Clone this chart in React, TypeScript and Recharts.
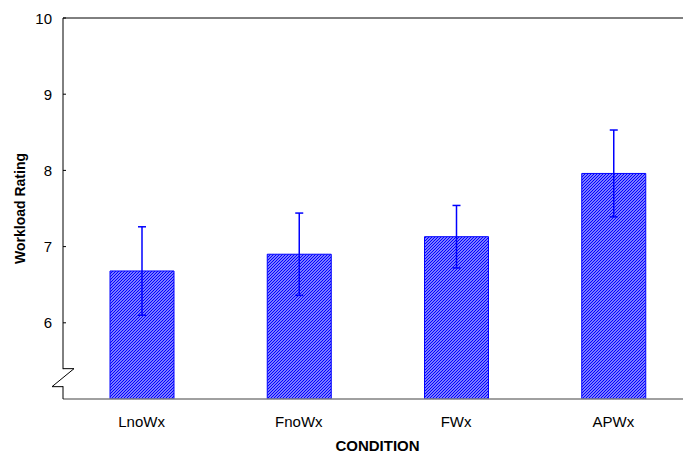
import React from 'react';
import { BarChart, Bar, XAxis, YAxis, ErrorBar, ReferenceLine } from 'recharts';

const categories = ['LnoWx', 'FnoWx', 'FWx', 'APWx'];
const means = [6.68, 6.9, 7.13, 7.96];
const errors = [0.58, 0.54, 0.41, 0.57];
const yTicks = [6, 7, 8, 9, 10];
const yDomain = [5, 10];
const breakAt = 5.28;

const data = categories.map((c, i) => ({ name: c, value: means[i], err: errors[i] }));

const FONT = '"Liberation Sans", Arial, sans-serif';
const BLUE = '#0000ff';
const TICK_GAP = 11;

const YTick = (props: any) => {
  const { x, y, payload } = props;
  const ax = x + TICK_GAP;
  if (payload.value === breakAt) {
    return (
      <g>
        <rect x={ax - 2} y={y - 8.5} width={4} height={17} fill="#fff" />
        <polyline
          points={`${ax},${y - 9} ${ax + 11},${y - 9} ${ax - 11},${y + 9} ${ax},${y + 9}`}
          fill="none"
          stroke="#000"
          strokeWidth={1}
        />
      </g>
    );
  }
  return (
    <g>
      <line x1={ax} x2={ax + 3} y1={y} y2={y} stroke="#000" />
      <text x={x} y={y} textAnchor="end" dominantBaseline="central" fontFamily={FONT} fontSize={15} fill="#000">
        {payload.value}
      </text>
    </g>
  );
};

const YLabel = (props: any) => {
  const { viewBox } = props;
  const cx = viewBox.x + 20;
  const cy = viewBox.y + viewBox.height / 2;
  return (
    <text
      x={cx}
      y={cy}
      transform={`rotate(-90, ${cx}, ${cy})`}
      textAnchor="middle"
      dominantBaseline="central"
      fontFamily={FONT}
      fontSize={14}
      fontWeight="bold"
      fill="#000"
    >
      Workload Rating
    </text>
  );
};

export default function App() {
  return (
    <div style={{ position: 'fixed', left: 0, top: 0, width: 683, height: 453, overflow: 'hidden', background: '#fff' }}>
      <BarChart width={700} height={453} data={data} margin={{ top: 18, right: 8, bottom: 0, left: 0 }}>
        <defs>
          <pattern id="hatch" patternUnits="userSpaceOnUse" width={3} height={3}>
            <rect x={0} y={0} width={3} height={3} fill="#ffffff" />
            <path d="M-1,1 L1,-1 M0,3 L3,0 M2,4 L4,2" stroke={BLUE} strokeWidth={1.45} />
          </pattern>
        </defs>
        <ReferenceLine y={10} stroke="#000" strokeWidth={1} ifOverflow="visible" />
        <XAxis
          dataKey="name"
          height={54}
          axisLine={{ stroke: '#808080', strokeWidth: 1.5 }}
          tickLine={false}
          tickSize={0}
          tickMargin={17}
          tick={{ fontFamily: FONT, fontSize: 15, fill: '#000' }}
          label={{
            value: 'CONDITION',
            position: 'insideBottom',
            offset: 2,
            style: { fontFamily: FONT, fontSize: 15, fontWeight: 'bold', fill: '#000' },
          }}
        />
        <YAxis
          width={63}
          domain={yDomain}
          ticks={[breakAt, ...yTicks]}
          allowDataOverflow
          axisLine={{ stroke: '#000' }}
          tickLine={false}
          tickSize={0}
          tickMargin={TICK_GAP}
          tick={<YTick />}
          interval={0}
          label={<YLabel />}
        />
        <Bar dataKey="value" fill="url(#hatch)" stroke={BLUE} strokeWidth={1} barSize={64} isAnimationActive={false}>
          <ErrorBar dataKey="err" direction="y" width={4} stroke={BLUE} strokeWidth={1.5} isAnimationActive={false} />
        </Bar>
      </BarChart>
    </div>
  );
}
